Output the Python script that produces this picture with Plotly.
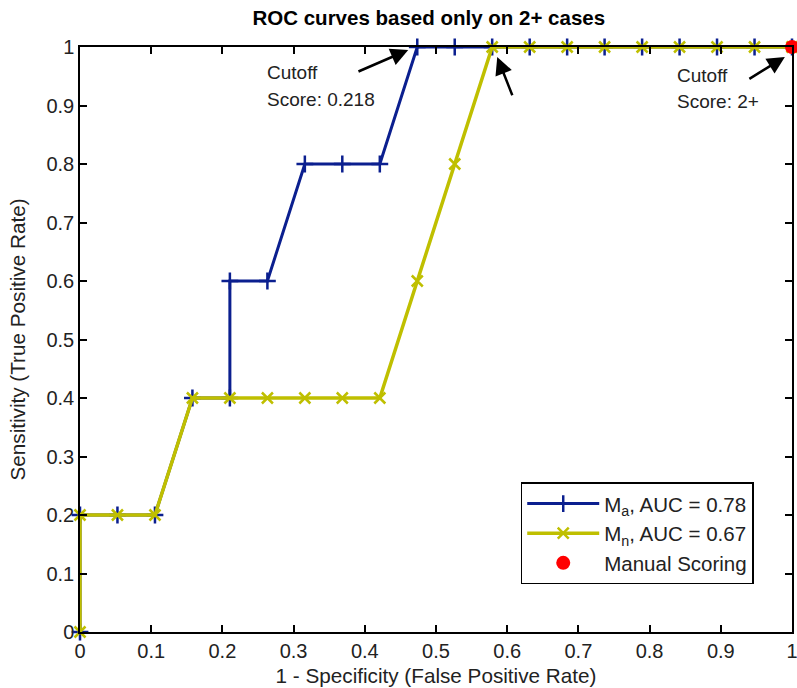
import plotly.graph_objects as go

# False positive rate steps (19 negatives) and sensitivity values
ma_fpr = [0, 0, 0.0526, 0.1053, 0.1579, 0.2105, 0.2105, 0.2632, 0.3158, 0.3684, 0.4211,
          0.4737, 0.5263, 0.5789, 0.6316, 0.6842, 0.7368, 0.7895, 0.8421, 0.8947, 0.9474, 1.0]
ma_tpr = [0, 0.2, 0.2, 0.2, 0.4, 0.4, 0.6, 0.6, 0.8, 0.8, 0.8,
          1.0, 1.0, 1.0, 1.0, 1.0, 1.0, 1.0, 1.0, 1.0, 1.0, 1.0]
mn_fpr = [0, 0, 0.0526, 0.1053, 0.1579, 0.2105, 0.2632, 0.3158, 0.3684, 0.4211,
          0.4737, 0.5263, 0.5789, 0.6316, 0.6842, 0.7368, 0.7895, 0.8421, 0.8947, 0.9474, 1.0]
mn_tpr = [0, 0.2, 0.2, 0.2, 0.4, 0.4, 0.4, 0.4, 0.4, 0.4,
          0.6, 0.8, 1.0, 1.0, 1.0, 1.0, 1.0, 1.0, 1.0, 1.0, 1.0]
manual_fpr = [1.0]
manual_tpr = [1.0]
tick_vals = [0, 0.1, 0.2, 0.3, 0.4, 0.5, 0.6, 0.7, 0.8, 0.9, 1.0]
tick_text = ["0", "0.1", "0.2", "0.3", "0.4", "0.5", "0.6", "0.7", "0.8", "0.9", "1"]

BLUE = "#0b1f8f"
YELLOW = "#bfbf00"
FONT = "Liberation Sans, Arial, sans-serif"
TXT = "#222"

fig = go.Figure()
fig.add_trace(go.Scatter(
    x=ma_fpr, y=ma_tpr, mode="lines+markers", name="M<sub>a</sub>, AUC = 0.78",
    line=dict(color=BLUE, width=3),
    marker=dict(symbol="cross-thin", size=12, line=dict(color=BLUE, width=2.5), color=BLUE),
    cliponaxis=False))
fig.add_trace(go.Scatter(
    x=mn_fpr, y=mn_tpr, mode="lines+markers", name="M<sub>n</sub>, AUC = 0.67",
    line=dict(color=YELLOW, width=3.5),
    marker=dict(symbol="x-thin", size=11, line=dict(color=YELLOW, width=2.5), color=YELLOW),
    cliponaxis=False))
fig.add_trace(go.Scatter(
    x=manual_fpr, y=manual_tpr, mode="markers", name="Manual Scoring",
    marker=dict(symbol="circle", size=14, color="#ff0000"),
    cliponaxis=False))

axis_common = dict(
    range=[0, 1], tickmode="array", tickvals=tick_vals, ticktext=tick_text,
    ticks="inside", ticklen=7, tickwidth=1.5, tickcolor="black",
    showline=True, linecolor="black", linewidth=1.5, mirror="ticks",
    showgrid=False, zeroline=False, automargin=False, ticklabeloverflow="allow",
    tickfont=dict(family=FONT, size=20, color=TXT),
)
fig.update_xaxes(**axis_common, title=dict(text="1 - Specificity (False Positive Rate)",
                 font=dict(family=FONT, size=20.7, color=TXT), standoff=8))
fig.update_yaxes(**axis_common, title=dict(text="Sensitivity (True Positive Rate)",
                 font=dict(family=FONT, size=20.7, color=TXT), standoff=15))

ann = []
def txt(x, y, s):
    ann.append(dict(x=x, y=y, xref="x", yref="y", text=s, showarrow=False,
                    xanchor="left", yanchor="middle",
                    font=dict(family=FONT, size=19, color=TXT)))
def arrow(x, y, ax, ay):
    ann.append(dict(x=x, y=y, ax=ax, ay=ay, xref="x", yref="y", axref="x", ayref="y",
                    text="", showarrow=True, arrowhead=2, arrowsize=1.4, arrowwidth=2.5,
                    arrowcolor="black", standoff=0))

txt(0.260, 0.957, "Cutoff")
txt(0.260, 0.911, "Score: 0.218")
txt(0.836, 0.951, "Cutoff")
txt(0.836, 0.906, "Score: 2+")
arrow(0.461, 0.995, 0.389, 0.957)
arrow(0.586, 0.983, 0.608, 0.915)
arrow(0.990, 0.983, 0.938, 0.944)

fig.update_layout(
    width=797, height=688,
    margin=dict(l=80, r=5, t=47, b=56),
    plot_bgcolor="white", paper_bgcolor="white",
    title=dict(text="<b>ROC curves based only on 2+ cases</b>", x=0.538, xanchor="center",
               y=0.974, yanchor="middle",
               font=dict(family="Liberation Sans Narrow, Arial Narrow, Liberation Sans", size=20.5, color="black")),
    showlegend=True,
    legend=dict(x=0.619, y=0.256, xanchor="left", yanchor="top",
                bordercolor="black", borderwidth=1.5, bgcolor="white",
                font=dict(family=FONT, size=20.5, color=TXT),
                itemwidth=72, tracegroupgap=0),
    annotations=ann,
)

fig.write_html("out.html", config={"displayModeBar": False},
               post_script="document.body.style.margin='0';")
